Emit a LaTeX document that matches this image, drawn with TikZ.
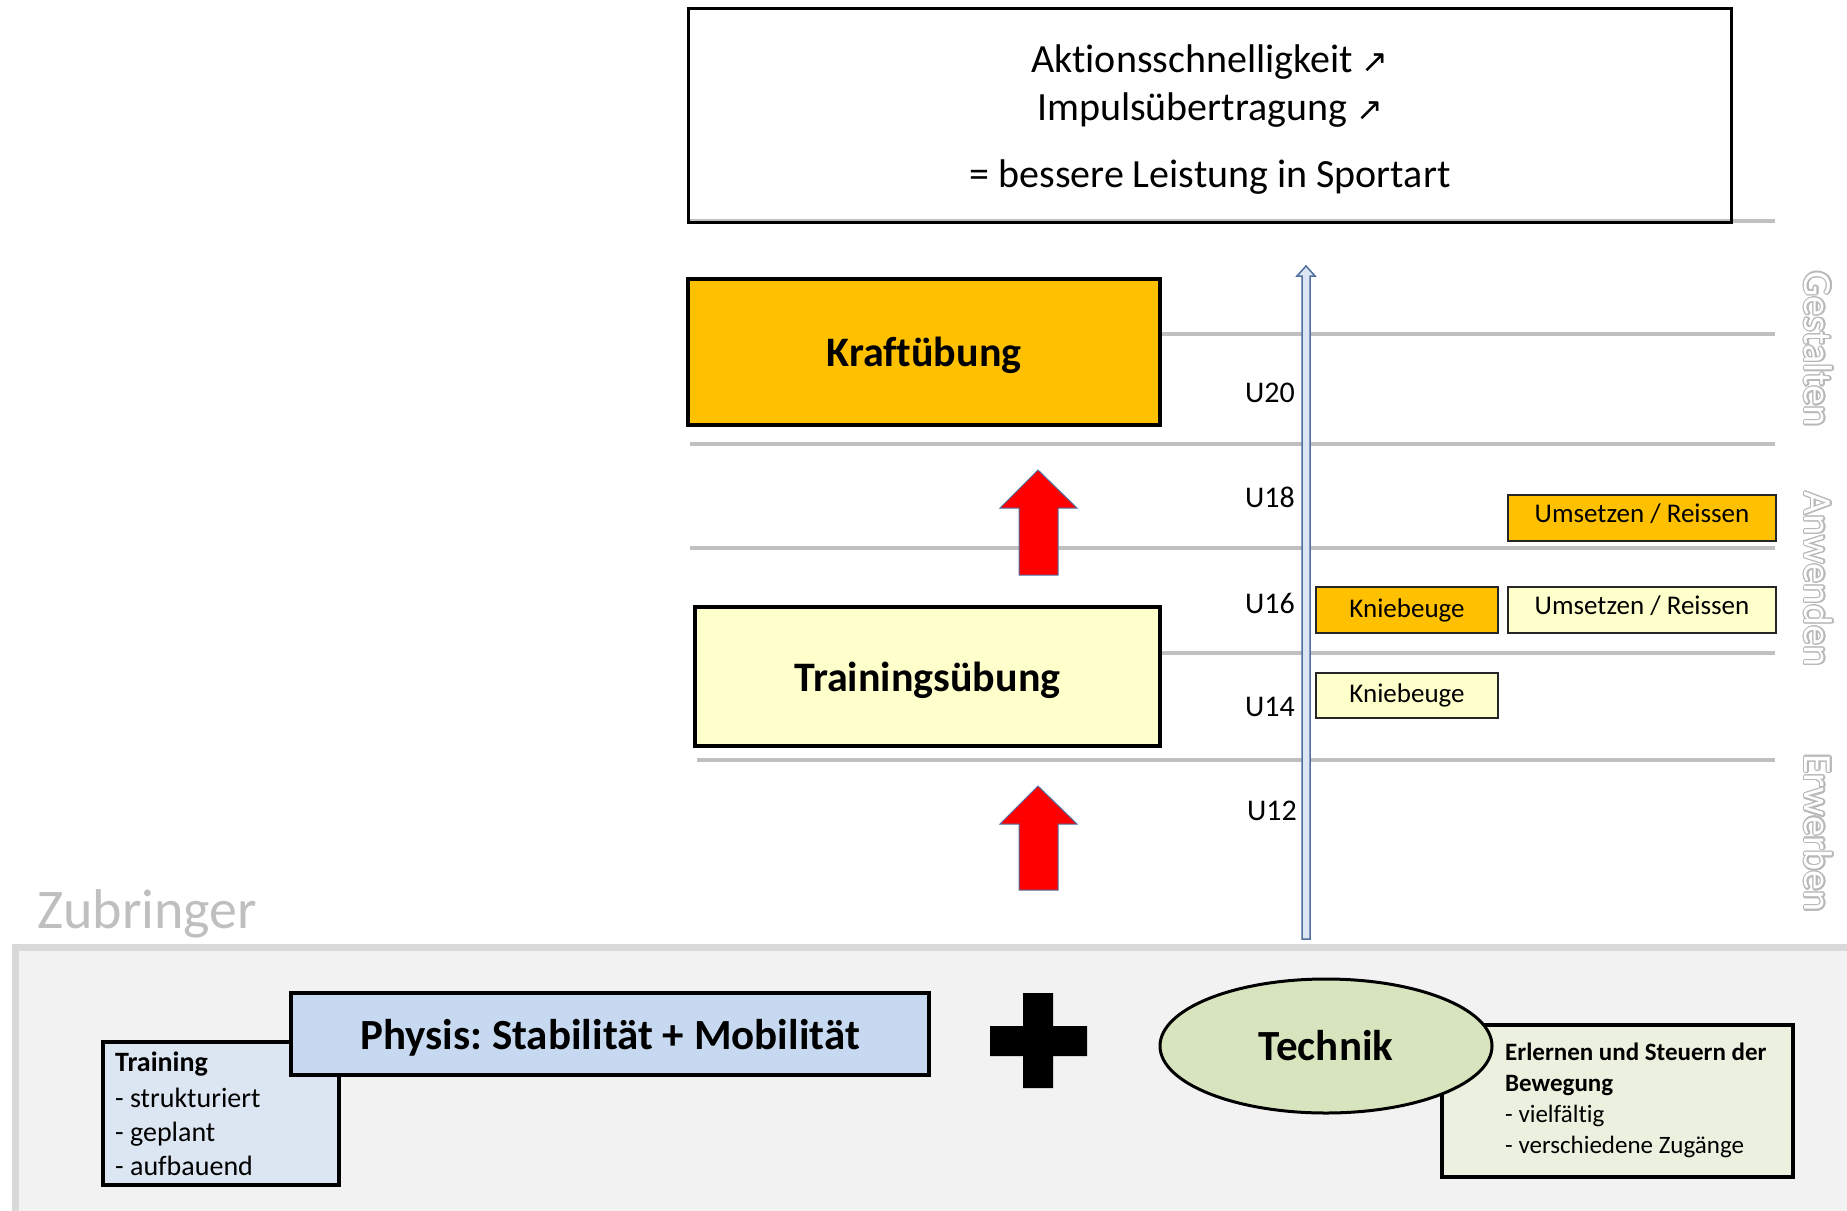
\documentclass[tikz,border=0pt]{standalone}
\usepackage{fontspec}
\setmainfont{Carlito}[Ligatures=NoCommon]
\newfontfamily\symfont{DejaVu Sans}
\usepackage[copies]{contour}
\contourlength{1.3pt}
\usetikzlibrary{shapes.geometric}
\definecolor{kraft}{HTML}{FFC000}
\definecolor{paleyel}{HTML}{FFFFCC}
\definecolor{physfill}{HTML}{C6D9F1}
\definecolor{trainfill}{HTML}{DCE6F2}
\definecolor{techell}{HTML}{D7E4BD}
\definecolor{techbox}{HTML}{EBF1DE}
\definecolor{panelfill}{HTML}{F2F2F2}
\definecolor{panelborder}{HTML}{D9D9D9}
\definecolor{gridgray}{HTML}{C0C0C0}
\definecolor{zubgray}{HTML}{BFBFBF}
\definecolor{arrowedge}{HTML}{4F6FA0}
\definecolor{axisfill}{HTML}{DCE6F2}
\newcommand\fsz[2]{\fontsize{#1pt}{#2pt}\selectfont}
\frenchspacing
\begin{document}
\begin{tikzpicture}[x=1pt,y=-1pt,
  bigbox/.style={draw=black, line width=3.5pt, inner sep=0pt, anchor=center},
  smallbox/.style={draw=black!85, line width=2pt, minimum height=46pt, inner sep=0pt, anchor=center, font=\fsz{27}{32}},
  gridline/.style={draw=gridgray, line width=3.5pt},
  ulabel/.style={anchor=base east, inner sep=0pt, font=\fsz{30}{36}},
  sidelabel/.style={rotate=-90, inner sep=0pt, font=\fsz{40}{48}},
  toptext/.style={anchor=base, inner sep=0pt, font=\fsz{40}{48}},
  listtext/.style={anchor=base west, inner sep=0pt},
  redarrow/.style={fill=red, draw=arrowedge, line width=1pt, line join=miter},
  axisarrow/.style={fill=axisfill, draw=arrowedge, line width=1.5pt, line join=miter}]
\useasboundingbox (0,0) rectangle (1847,1210);
\clip (0,0) rectangle (1847,1210);

% grid lines
\draw[gridline] (688,221) -- (1775,221);
\draw[gridline] (1160,334) -- (1775,334);
\draw[gridline] (690,444) -- (1775,444);
\draw[gridline] (690,548) -- (1775,548);
\draw[gridline] (1160,653) -- (1775,653);
\draw[gridline] (697,760) -- (1775,760);

% top result box
\node[bigbox, line width=3pt, minimum width=1043pt, minimum height=214pt] (top) at (1209.5,115) {};
\node[toptext] (t1) at (1210,72) {Aktionsschnelligkeit {\symfont\fsz{32}{36}↗}};
\node[toptext] (t2) at (1210,120) {Impulsübertragung {\symfont\fsz{32}{36}↗}};
\node[toptext] (t3) at (1210,187) {= bessere Leistung in Sportart};

% main exercise boxes
\node[bigbox, fill=kraft, minimum width=472pt, minimum height=146pt, text depth=0pt, font=\fsz{42}{50}\bfseries] (kraft) at (924,352) {Kraftübung};
\node[bigbox, fill=paleyel, minimum width=465pt, minimum height=139pt, text depth=0pt, font=\fsz{42}{50}\bfseries] (trainue) at (927.5,676.5) {Trainingsübung};

% red block arrows
\draw[redarrow] (1019,575) -- (1019,508) -- (1000,508) -- (1038,470) -- (1077,508) -- (1058,508) -- (1058,575) -- cycle;
\draw[redarrow] (1019,890) -- (1019,824) -- (1000,824) -- (1038,786) -- (1077,824) -- (1058,824) -- (1058,890) -- cycle;

% vertical axis
\draw[axisarrow] (1302,939) -- (1302,276) -- (1297,276) -- (1306,266) -- (1315,276) -- (1310,276) -- (1310,939) -- cycle;

% age labels
\node[ulabel] (u20) at (1295,402) {U20};
\node[ulabel] (u18) at (1295,507) {U18};
\node[ulabel] (u16) at (1295,613) {U16};
\node[ulabel] (u14) at (1295,716) {U14};
\node[ulabel] (u12) at (1297,820) {U12};

% small boxes
\node[smallbox, fill=kraft, minimum width=268pt, text depth=9pt] (ur1) at (1642,518) {Umsetzen / Reissen};
\node[smallbox, fill=kraft, minimum width=182pt] (kb1) at (1407,610) {Kniebeuge};
\node[smallbox, fill=paleyel, minimum width=268pt, text depth=9pt] (ur2) at (1642,610) {Umsetzen / Reissen};
\node[smallbox, fill=paleyel, minimum width=182pt, minimum height=45pt] (kb2) at (1407,695.5) {Kniebeuge};

% side labels
\node[sidelabel] (gest) at (1818,349) {\color{white}\contour{black!28}{Gestalten}};
\node[sidelabel] (anw) at (1818,579) {\color{white}\contour{black!28}{Anwenden}};
\node[sidelabel] (erw) at (1818,833) {\color{white}\contour{black!28}{Erwerben}};

% bottom panel
\draw[draw=panelborder, fill=panelfill, line width=7pt] (15.5,947.5) rectangle (1880,1240);
\node[anchor=base west, inner sep=0pt, font=\fsz{56}{64}, text=zubgray] (zub) at (37,928) {Zubringer};

% Training + Physis
\node[bigbox, fill=trainfill, minimum width=236pt, minimum height=143pt] (train) at (221,1113.5) {};
\node[listtext, font=\fsz{28}{34}\bfseries] (tr1) at (115,1071) {Training};
\node[listtext, font=\fsz{28}{34}] (tr2) at (115,1107) {- strukturiert};
\node[listtext, font=\fsz{28}{34}] (tr3) at (115,1141) {- geplant};
\node[listtext, font=\fsz{28}{34}] (tr4) at (115,1175) {- aufbauend};
\node[bigbox, fill=physfill, minimum width=638pt, minimum height=82pt, text depth=0pt, font=\fsz{43}{50}\bfseries] (phys) at (610,1034) {Physis: Stabilität + Mobilität};

% plus sign
\fill[black] (990,1026) -- (1023,1026) -- (1023,993) -- (1053,993) -- (1053,1026) -- (1087,1026) -- (1087,1056) -- (1053,1056) -- (1053,1088) -- (1023,1088) -- (1023,1056) -- (990,1056) -- cycle;

% Technik
\node[bigbox, fill=techbox, minimum width=351pt, minimum height=152pt] (tbox) at (1617.5,1101) {};
\node[listtext, font=\fsz{25}{30}\bfseries] (te1) at (1505,1060) {Erlernen und Steuern der};
\node[listtext, font=\fsz{25}{30}\bfseries] (te2) at (1505,1091) {Bewegung};
\node[listtext, font=\fsz{25}{30}] (te3) at (1505,1122) {- vielfältig};
\node[listtext, font=\fsz{25}{30}] (te4) at (1505,1153) {- verschiedene Zugänge};
\node[ellipse, draw=black, line width=3pt, fill=techell, minimum width=332pt, minimum height=134pt, inner sep=0pt, font=\fsz{43}{50}\bfseries] (tech) at (1326,1046) {Technik};
\end{tikzpicture}
\end{document}
